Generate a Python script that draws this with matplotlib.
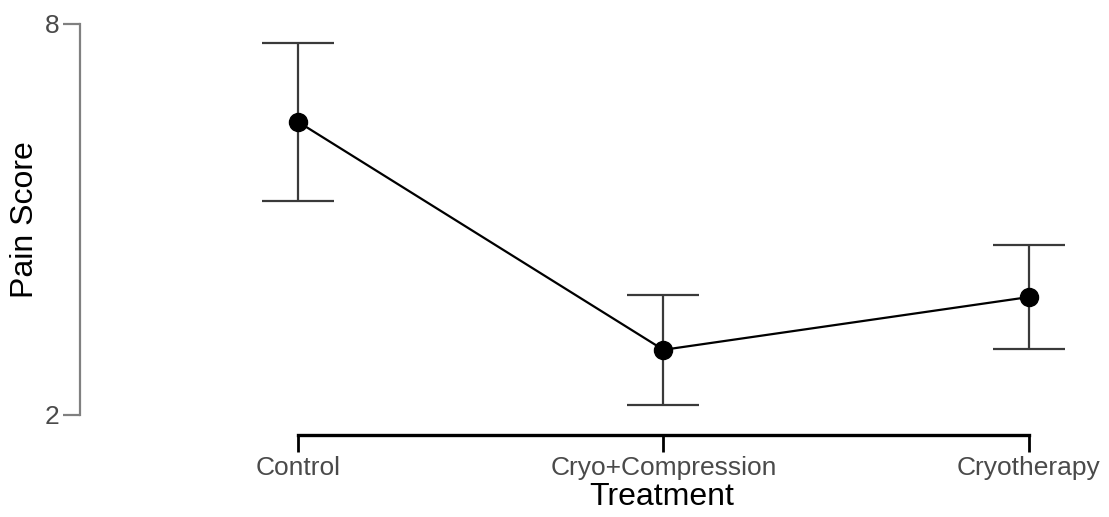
import matplotlib
matplotlib.use("Agg")
import matplotlib.pyplot as plt

# data
treatments = ["Control", "Cryo+Compression", "Cryotherapy"]
pain_mean = [6.50, 3.00, 3.81]
pain_err = [1.21, 0.84, 0.80]

plt.rcParams['font.family'] = ['Liberation Sans', 'DejaVu Sans']

fig = plt.figure(figsize=(11.09, 5.17), dpi=100)
ax = fig.add_axes([80 / 1109, 82 / 517, 1010 / 1109, 415 / 517])

x = list(range(len(treatments)))
ax.errorbar(x, pain_mean, yerr=pain_err, fmt='none', ecolor='#3a3a3a',
            elinewidth=1.6, capsize=26, capthick=1.6, zorder=2)
ax.plot(x, pain_mean, color='black', lw=1.6, marker='o', ms=13,
        mfc='black', mec='black', zorder=3)

ax.set_xlim(-0.596, 2.167)
ax.set_ylim(1.693, 8.061)

for s in ['top', 'right']:
    ax.spines[s].set_visible(False)
ax.spines['left'].set_bounds(2, 8)
ax.spines['left'].set_color('#808080')
ax.spines['left'].set_linewidth(1.6)
ax.spines['bottom'].set_bounds(0, 2)
ax.spines['bottom'].set_color('black')
ax.spines['bottom'].set_linewidth(2.4)

ax.set_yticks([2, 8])
ax.set_yticklabels(['2', '8'])
ax.set_xticks(x)
ax.set_xticklabels(treatments)
ax.tick_params(axis='y', length=12, width=1.6, color='#808080',
               labelcolor='#4a4a4a', labelsize=19, pad=3)
ax.tick_params(axis='x', length=12, width=2.0, color='black',
               labelcolor='#4a4a4a', labelsize=19, pad=3)

# axis titles placed as in the reference
fig.text(25 / 1109, 1 - 220 / 517, "Pain Score", fontsize=23, rotation=90,
         ha='center', va='center')
fig.text(662 / 1109, 1 - 497 / 517, "Treatment", fontsize=23,
         ha='center', va='center')

fig.savefig("out.png", dpi=100)
